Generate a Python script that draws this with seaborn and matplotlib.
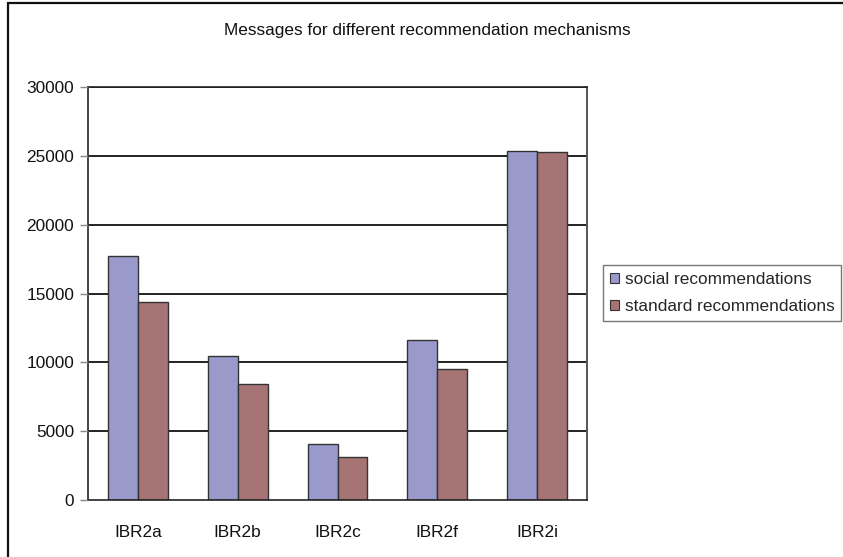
import matplotlib
matplotlib.use("Agg")
import matplotlib.pyplot as plt
import matplotlib.patches as mpatches
import numpy as np
import pandas as pd
import seaborn as sns

categories = ["IBR2a", "IBR2b", "IBR2c", "IBR2f", "IBR2i"]
social = [17700, 10450, 4050, 11600, 25350]
standard = [14350, 8450, 3130, 9550, 25250]
series_names = ["social recommendations", "standard recommendations"]
y_ticks = [0, 5000, 10000, 15000, 20000, 25000, 30000]

df = pd.DataFrame({
    "mechanism": categories * 2,
    "series": [series_names[0]] * len(categories) + [series_names[1]] * len(categories),
    "messages": social + standard,
})

sns.set_theme(style="white")
plt.rcParams["font.family"] = ["Liberation Sans", "DejaVu Sans"]
FS = 12.4

W, H = 843, 557
fig = plt.figure(figsize=(W / 100, H / 100), dpi=100)
ax = fig.add_axes([88 / W, (H - 500) / H, 499 / W, 413 / H])

palette = {series_names[0]: "#9999CC", series_names[1]: "#A67474"}
sns.barplot(data=df, x="mechanism", y="messages", hue="series", order=categories,
            hue_order=series_names, palette=palette, width=0.6, dodge=True,
            edgecolor="#333333", linewidth=1.0, saturation=1, ax=ax, legend=False)

ax.set_ylim(0, 30000)
ax.set_xlim(-0.5, len(categories) - 0.5)
ax.set_yticks(y_ticks)
ax.set_yticklabels([str(t) for t in y_ticks], fontsize=FS, color="#111111")
ax.set_xticks(range(len(categories)))
ax.set_xticklabels(categories, fontsize=FS, color="#111111")
ax.set_xticks(np.arange(-0.5, len(categories), 1.0), minor=True)
ax.tick_params(axis="x", which="major", length=0, pad=18)
ax.tick_params(axis="x", which="minor", length=6, width=1, color="#333333", direction="out")
ax.tick_params(axis="y", length=6, width=1, color="#888888", direction="out", left=True, pad=4)
ax.set_xlabel("")
ax.set_ylabel("")

for y in y_ticks[1:]:
    ax.axhline(y, color="#222222", linewidth=1.4, zorder=0.5)

for side in ["left", "bottom", "top"]:
    ax.spines[side].set_visible(True)
    ax.spines[side].set_color("#222222")
    ax.spines[side].set_linewidth(1.2)
ax.spines["right"].set_visible(True)
ax.spines["right"].set_color("#555555")
ax.spines["right"].set_linewidth(1.4)
ax.set_axisbelow(False)

fig.text(427 / W, 1 - 30 / H, "Messages for different recommendation mechanisms",
         ha="center", va="center", fontsize=FS, color="#111111")

handles = [mpatches.Patch(facecolor=palette[s], edgecolor="#333333", linewidth=0.8, label=s)
           for s in series_names]
leg = fig.legend(handles=handles, loc="upper left", bbox_to_anchor=(603 / W, 1 - 265 / H),
                 frameon=True, fancybox=False, edgecolor="#555555", fontsize=FS,
                 handlelength=0.55, handleheight=0.55, handletextpad=0.3,
                 borderpad=0.4, labelspacing=0.7, borderaxespad=0)
leg.get_frame().set_linewidth(1.0)

# outer chart border
fig.add_artist(mpatches.Rectangle((8 / W, -0.01), 1.0, 1 - 3 / H + 0.01,
                                  transform=fig.transFigure, fill=False,
                                  edgecolor="#111111", linewidth=1.6))

fig.savefig("out.png", dpi=100)
